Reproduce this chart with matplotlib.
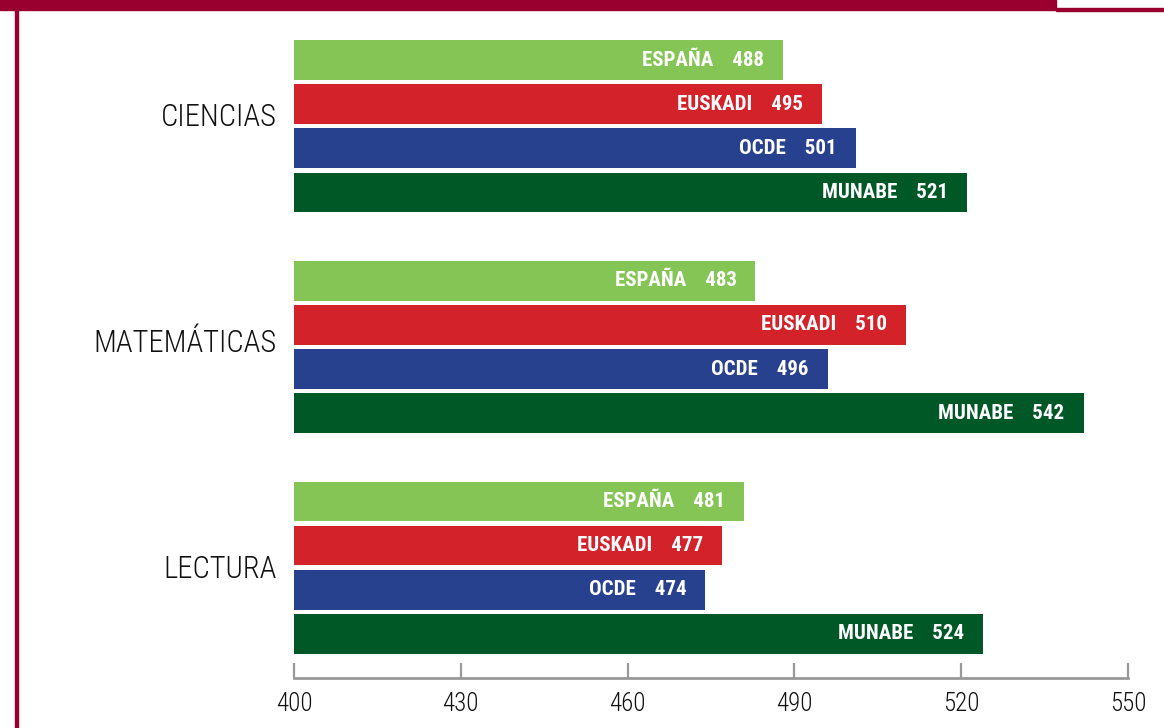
import matplotlib

matplotlib.use("Agg")
import matplotlib.pyplot as plt
from matplotlib.patches import Rectangle

subjects = ["CIENCIAS", "MATEMÁTICAS", "LECTURA"]
regions = ["ESPAÑA", "EUSKADI", "OCDE", "MUNABE"]
scores = {
    "CIENCIAS": [488, 495, 501, 521],
    "MATEMÁTICAS": [483, 510, 496, 542],
    "LECTURA": [481, 477, 474, 524],
}
region_colors = ["#85C556", "#D3222A", "#27418F", "#005827"]
x_ticks = [400, 430, 460, 490, 520, 550]

maroon = "#99002F"
fonts = ["Roboto Condensed", "Liberation Sans Narrow", "DejaVu Sans"]
# vertical nudge of each subject label inside its group
label_nudge = [1.3, 1.43, 1.55]

fig = plt.figure(figsize=(11.64, 7.28), dpi=100)
W, H = 1164, 728

# frame decorations
fig.patches.append(Rectangle((0, 1 - 10 / H), 1056 / W, 10 / H,
                             transform=fig.transFigure, color=maroon, zorder=0))
fig.patches.append(Rectangle((1056 / W, 1 - 11 / H), 108 / W, 3 / H,
                             transform=fig.transFigure, color=maroon, zorder=0))
fig.patches.append(Rectangle((15 / W, 0), 2.5 / W, 1 - 10 / H,
                             transform=fig.transFigure, color=maroon, zorder=0))

ax = fig.add_axes([294 / W, 1 - 678 / H, 834 / W, 648 / H])

group_step = 5
for g, subject in enumerate(subjects):
    for i, (region, val) in enumerate(zip(regions, scores[subject])):
        y = g * group_step + i
        ax.barh(y, val - 400, left=400, height=0.9, color=region_colors[i])
        ax.annotate(f"{region}    {val}", xy=(val, y), xytext=(-19, 0),
                    textcoords="offset pixels", ha="right", va="center",
                    color="white", fontsize=15, fontweight="bold",
                    family=fonts)
    ax.text(-17 / 834, g * group_step + label_nudge[g], subject,
            transform=ax.get_yaxis_transform(), ha="right", va="center",
            fontsize=22, family=fonts, fontweight="light", color="#111111")

ax.set_xlim(400, 550)
ax.set_ylim(14.0, -0.68)
ax.set_yticks([])
for s in ["top", "right", "left"]:
    ax.spines[s].set_visible(False)
ax.spines["bottom"].set_color("#999999")
ax.spines["bottom"].set_linewidth(2)
ax.set_xticks(x_ticks)
ax.set_xticklabels([str(t) for t in x_ticks], family=fonts, fontsize=18,
                   fontweight="light", color="#111111")
ax.tick_params(axis="x", direction="in", length=11, width=1.6,
               color="#999999", pad=10)

fig.savefig("out.png", dpi=100)
